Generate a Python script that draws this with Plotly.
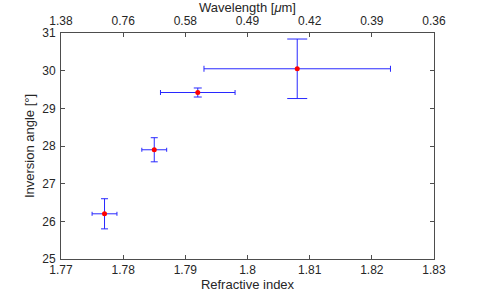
import plotly.graph_objects as go

# Data
refr_index = [1.777, 1.785, 1.792, 1.808]
inv_angle = [26.2, 27.9, 29.42, 30.05]
index_err = [0.002, 0.002, 0.006, 0.015]
angle_err = [0.4, 0.32, 0.12, 0.79]

x_ticks = [1.77, 1.78, 1.79, 1.80, 1.81, 1.82, 1.83]
x_ticktext = ["1.77", "1.78", "1.79", "1.8", "1.81", "1.82", "1.83"]
wl_ticktext = ["1.38", "0.76", "0.58", "0.49", "0.42", "0.39", "0.36"]
y_ticks = [25, 26, 27, 28, 29, 30, 31]

# cap half-widths (px) per point (style)
ycap = [3.5, 3.5, 4, 10]
xcap = [2, 2, 2.5, 3]

fig = go.Figure()
ebcol = "rgb(40,40,255)"
for i in range(len(refr_index)):
    fig.add_trace(go.Scatter(
        x=[refr_index[i]], y=[inv_angle[i]], mode="markers",
        marker=dict(color="red", size=5),
        error_x=dict(type="data", array=[index_err[i]], color=ebcol, thickness=1, width=xcap[i]),
        error_y=dict(type="data", array=[angle_err[i]], color=ebcol, thickness=1, width=ycap[i]),
        showlegend=False, hoverinfo="skip"))

# invisible trace for the top axis
fig.add_trace(go.Scatter(x=[x_ticks[0], x_ticks[-1]], y=[25, 25], xaxis="x2", mode="markers",
                         marker=dict(opacity=0), showlegend=False, hoverinfo="skip"))

axcol = "#4d4d4d"
tcol = "#262626"
font = dict(family="Liberation Sans, Arial, sans-serif", size=12, color=tcol)
tfont = dict(family="Liberation Sans, Arial, sans-serif", size=13, color=tcol)
common = dict(showgrid=False, zeroline=False, showline=True, linecolor=axcol, linewidth=1,
              ticks="inside", ticklen=4, tickcolor=axcol, tickfont=font, automargin=False)

fig.update_layout(
    width=480, height=292,
    margin=dict(l=61, r=46, t=33, b=33),
    paper_bgcolor="white", plot_bgcolor="white",
    font=font,
    xaxis=dict(range=[1.77, 1.83], tickvals=x_ticks, ticktext=x_ticktext, mirror=False,
               ticklabelstandoff=0,
               title=dict(text="Refractive index", font=tfont, standoff=0),
               **common),
    xaxis2=dict(range=[1.77, 1.83], tickvals=x_ticks, ticktext=wl_ticktext, overlaying="x",
                side="top", anchor="y", ticklabelstandoff=2,
                title=dict(text="Wavelength [<i>μ</i>m]", font=tfont, standoff=0),
                **common),
    yaxis=dict(range=[25, 31], tickvals=y_ticks, mirror="ticks", ticklabelstandoff=2,
               title=dict(text="Inversion angle [°]", font=tfont, standoff=4),
               **common),
)

fig.write_html("out.html", config={"displayModeBar": False},
               post_script="document.body.style.margin='0';document.body.style.overflow='hidden';")
